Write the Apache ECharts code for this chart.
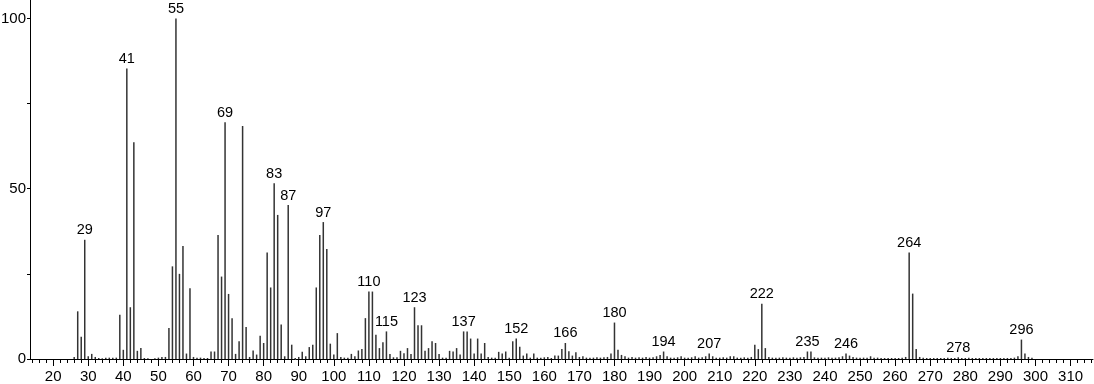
<!DOCTYPE html>
<html><head><meta charset="utf-8">
<script src="https://cdn.jsdelivr.net/npm/echarts@6/dist/echarts.min.js"></script>
<style>html,body{margin:0;padding:0;background:#fff}#c{width:1094px;height:384px}</style>
</head><body><div id="c"></div>
<script>
// m/z values start at 26 and step by 1 (one intensity per integer mass)
const firstMass = 26;
const intensities = [
  0.6, 14.0, 6.5, 35.0,                                   // 26-29
  0.8, 1.5, 0.6, 0.3, 0.2, 0.4, 0.4, 0.4, 0.4, 13.0,      // 30-39
  2.7, 85.3, 15.2, 63.6, 2.4, 3.2, 0.3, 0.2, 0, 0.2,      // 40-49
  0.4, 0.6, 0.6, 9.1, 27.2, 100, 25.0, 33.2, 1.6, 20.8,   // 50-59
  0.6, 0.4, 0.4, 0.3, 0.3, 2.2, 2.2, 36.4, 24.2, 69.5,    // 60-69
  19.1, 12.0, 1.5, 5.2, 68.4, 9.4, 0.6, 2.5, 1.3, 6.8,    // 70-79
  4.7, 31.3, 21.0, 51.6, 42.3, 10.1, 0.8, 45.2, 4.2, 0.3, // 80-89
  0.6, 2.1, 0.8, 3.5, 4.2, 21.0, 36.4, 40.2, 32.3, 4.5,   // 90-99
  1.3, 7.6, 0.6, 0.4, 0.4, 1.5, 0.8, 2.5, 2.9, 12.0,      // 100-109
  19.8, 19.8, 7.1, 3.2, 4.9, 8.1, 1.5, 0.5, 0.5, 2.4,     // 110-119
  1.7, 3.2, 1.5, 15.2, 9.9, 9.9, 2.4, 3.2, 5.2, 4.7,      // 120-129
  1.5, 0.4, 0.4, 2.4, 2.2, 3.2, 1.3, 8.1, 8.1, 6.0,       // 130-139
  1.6, 6.0, 1.6, 4.7, 0.6, 0.4, 0.4, 2.1, 1.6, 2.2,       // 140-149
  0.4, 5.2, 6.0, 3.6, 1.0, 1.6, 0.4, 1.6, 0.4, 0.4,       // 150-159
  0.5, 0.6, 0.3, 1.0, 1.0, 2.9, 4.7, 2.3, 1.0, 2.0,       // 160-169
  0.6, 0.8, 0.4, 0.4, 0.4, 0.5, 0.4, 0.5, 0.6, 1.6,       // 170-179
  10.7, 2.7, 1.2, 0.8, 0.4, 0.6, 0.4, 0.5, 0.4, 0.6,      // 180-189
  0.4, 0.5, 0.8, 1.2, 2.2, 0.8, 0.4, 0.4, 0.5, 0.8,       // 190-199
  0.4, 0.4, 0.5, 0.8, 0.4, 0.5, 0.8, 1.6, 0.8, 0.4,       // 200-209
  0.4, 0.5, 0.4, 0.8, 0.8, 0.4, 0.4, 0.5, 0.4, 0.6,       // 210-219
  4.2, 2.9, 16.2, 3.2, 0.6, 0.4, 0.4, 0.4, 0.5, 0.4,      // 220-229
  0.4, 0.5, 0.4, 0.5, 0.6, 2.2, 2.2, 0.5, 0.4, 0.4,       // 230-239
  0.4, 0.5, 0.4, 0.4, 0.5, 0.8, 1.6, 1.0, 0.6, 0.4,       // 240-249
  0.4, 0.4, 0.4, 0.8, 0.4, 0.4, 0.3, 0.3, 0.3, 0.3,       // 250-259
  0.3, 0.3, 0.4, 0.6, 31.3, 19.2, 2.9, 0.6, 0.4, 0.3,     // 260-269
  0.3, 0.3, 0.3, 0.3, 0.3, 0.4, 0.3, 0.3, 0.5, 0.3,       // 270-279
  0.3, 0.4, 0.3, 0.3, 0.3, 0.3, 0.3, 0.3, 0.3, 0.3,       // 280-289
  0.3, 0.3, 0.3, 0.3, 0.4, 0.8, 5.7, 1.6, 0.6, 0.4        // 290-299
];
const labeledPeaks = [29, 41, 55, 69, 83, 87, 97, 110, 115, 123, 137, 152, 166, 180, 194, 207, 222, 235, 246, 264, 278, 296];
const xTickLabels = [20,30,40,50,60,70,80,90,100,110,120,130,140,150,160,170,180,190,200,210,220,230,240,250,260,270,280,290,300,310];
const yTickLabels = [0, 50, 100];
const yMinorTicks = [0, 25, 50, 75, 100];

const xMin = 13.4, xMax = 316.4;
const xMinorTicks = [];
for (let t = 14; t <= 316; t += 2) xMinorTicks.push(t);

const FONT = 'Liberation Sans, Arial, sans-serif';
const data = intensities.map((v, i) => {
  const m = firstMass + i;
  const item = { value: [m, v] };
  if (labeledPeaks.includes(m)) {
    item.label = { show: true, position: 'top', distance: 2, formatter: String(m),
      fontSize: 14.5, color: '#000', fontFamily: FONT };
  }
  return item;
});

const chart = echarts.init(document.getElementById('c'), null, { renderer: 'canvas' });
chart.setOption({
  animation: false,
  backgroundColor: '#fff',
  grid: { left: 30, right: 1, top: 0, bottom: 25, containLabel: false, outerBoundsMode: 'none' },
  xAxis: [
    { type: 'value', min: xMin, max: xMax, position: 'bottom',
      axisLine: { show: true, lineStyle: { color: '#000', width: 1 } },
      axisTick: { show: true, customValues: xTickLabels, length: 7, lineStyle: { color: '#000' } },
      axisLabel: { customValues: xTickLabels, fontSize: 15, color: '#000', margin: 10, fontFamily: FONT },
      splitLine: { show: false } },
    { type: 'value', min: xMin, max: xMax, position: 'bottom', gridIndex: 0,
      axisLine: { show: false },
      axisTick: { show: true, customValues: xMinorTicks, length: 4, lineStyle: { color: '#000' } },
      axisLabel: { show: false },
      splitLine: { show: false } }
  ],
  yAxis: {
    type: 'value', min: 0, max: 105.4,
    axisLine: { show: true, lineStyle: { color: '#000', width: 1 } },
    axisTick: { show: true, customValues: yMinorTicks, length: 3, lineStyle: { color: '#000' } },
    axisLabel: { customValues: yTickLabels, fontSize: 15, color: '#000', margin: 4, fontFamily: FONT },
    splitLine: { show: false }
  },
  series: [{
    type: 'bar', xAxisIndex: 0, yAxisIndex: 0,
    barWidth: 1.5,
    itemStyle: { color: '#333' },
    data: data
  }]
});
</script>
</body></html>
